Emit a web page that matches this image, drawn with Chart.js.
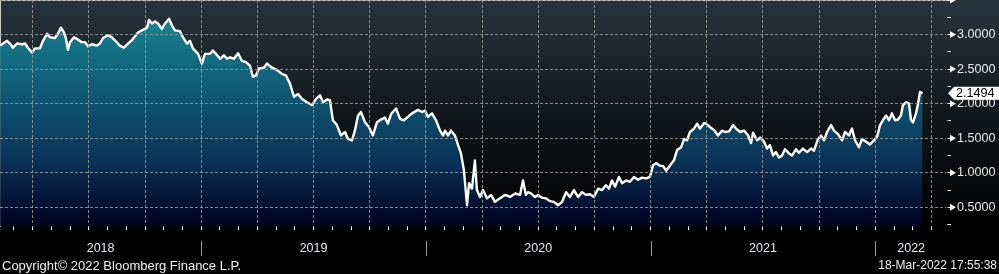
<!DOCTYPE html>
<html lang="en">
<head>
    <meta charset="UTF-8">
    <title>Yield chart</title>
    <script src="https://cdn.jsdelivr.net/npm/chart.js"></script>
    <style>
        body {
            margin: 0;
            background-color: #000;
            overflow: hidden;
        }
        canvas {
            display: block;
        }
    </style>
</head>
<body>
    <canvas id="yieldChart" width="999" height="274"></canvas>

    <script>
        // Dates as decimal years
        const dates = [
            2018.105, 2018.136, 2018.149, 2018.162, 2018.180, 2018.202, 2018.216, 2018.229, 2018.247, 2018.260,
            2018.282, 2018.296, 2018.314, 2018.327, 2018.349, 2018.362, 2018.376, 2018.389, 2018.398, 2018.407,
            2018.416, 2018.434, 2018.451, 2018.469, 2018.483, 2018.496, 2018.514, 2018.536, 2018.549, 2018.563,
            2018.585, 2018.603, 2018.621, 2018.638, 2018.656, 2018.674, 2018.692, 2018.719, 2018.741, 2018.759,
            2018.768, 2018.781, 2018.794, 2018.808, 2018.825, 2018.839, 2018.857, 2018.870, 2018.883, 2018.905,
            2018.919, 2018.937, 2018.950, 2018.963, 2018.986, 2019.003, 2019.017, 2019.039, 2019.052, 2019.066,
            2019.084, 2019.101, 2019.115, 2019.128, 2019.146, 2019.164, 2019.181, 2019.199, 2019.217, 2019.230,
            2019.244, 2019.257, 2019.279, 2019.293, 2019.315, 2019.337, 2019.359, 2019.377, 2019.395, 2019.413,
            2019.431, 2019.448, 2019.471, 2019.493, 2019.511, 2019.529, 2019.542, 2019.560, 2019.573, 2019.586,
            2019.604, 2019.622, 2019.640, 2019.653, 2019.671, 2019.684, 2019.698, 2019.711, 2019.729, 2019.747,
            2019.764, 2019.782, 2019.800, 2019.818, 2019.831, 2019.845, 2019.867, 2019.885, 2019.902, 2019.920,
            2019.938, 2019.965, 2019.983, 2019.996, 2020.009, 2020.027, 2020.045, 2020.063, 2020.076, 2020.085,
            2020.098, 2020.112, 2020.129, 2020.143, 2020.156, 2020.169, 2020.183, 2020.192, 2020.205, 2020.218,
            2020.227, 2020.241, 2020.254, 2020.272, 2020.290, 2020.307, 2020.330, 2020.352, 2020.374, 2020.397,
            2020.419, 2020.432, 2020.445, 2020.454, 2020.468, 2020.486, 2020.499, 2020.517, 2020.534, 2020.552,
            2020.570, 2020.588, 2020.606, 2020.624, 2020.641, 2020.659, 2020.677, 2020.695, 2020.712, 2020.730,
            2020.748, 2020.766, 2020.784, 2020.801, 2020.815, 2020.828, 2020.842, 2020.859, 2020.873, 2020.891,
            2020.908, 2020.926, 2020.944, 2020.962, 2020.980, 2020.997, 2021.011, 2021.024, 2021.042, 2021.055,
            2021.069, 2021.087, 2021.104, 2021.118, 2021.136, 2021.149, 2021.162, 2021.175, 2021.193, 2021.207,
            2021.220, 2021.238, 2021.247, 2021.265, 2021.282, 2021.300, 2021.318, 2021.331, 2021.349, 2021.367,
            2021.380, 2021.398, 2021.416, 2021.434, 2021.447, 2021.456, 2021.474, 2021.487, 2021.505, 2021.518,
            2021.531, 2021.545, 2021.558, 2021.571, 2021.585, 2021.598, 2021.616, 2021.629, 2021.647, 2021.660,
            2021.678, 2021.696, 2021.714, 2021.727, 2021.745, 2021.758, 2021.772, 2021.785, 2021.803, 2021.816,
            2021.834, 2021.852, 2021.865, 2021.883, 2021.896, 2021.910, 2021.927, 2021.941, 2021.959, 2021.976,
            2021.994, 2022.008, 2022.021, 2022.034, 2022.048, 2022.061, 2022.074, 2022.088, 2022.101, 2022.114,
            2022.123, 2022.137, 2022.150, 2022.159, 2022.168, 2022.181, 2022.190, 2022.199, 2022.210
        ];

        const yields = [
            2.84, 2.91, 2.87, 2.81, 2.87, 2.86, 2.87, 2.81, 2.74, 2.80,
            2.80, 2.91, 3.01, 2.96, 2.95, 3.01, 3.10, 3.03, 2.94, 2.78,
            2.89, 2.96, 2.93, 2.89, 2.89, 2.83, 2.86, 2.84, 2.87, 2.95,
            2.99, 2.96, 2.90, 2.84, 2.81, 2.87, 2.92, 3.03, 3.07, 3.10,
            3.21, 3.16, 3.19, 3.16, 3.08, 3.16, 3.23, 3.13, 3.06, 3.05,
            2.96, 2.87, 2.91, 2.80, 2.72, 2.58, 2.72, 2.72, 2.77, 2.72,
            2.65, 2.70, 2.65, 2.67, 2.65, 2.73, 2.62, 2.60, 2.55, 2.39,
            2.41, 2.51, 2.52, 2.58, 2.52, 2.49, 2.43, 2.41, 2.29, 2.10,
            2.14, 2.07, 2.02, 1.98, 2.07, 2.12, 2.02, 2.06, 2.05, 1.76,
            1.69, 1.54, 1.59, 1.49, 1.47, 1.61, 1.83, 1.88, 1.73, 1.66,
            1.54, 1.73, 1.77, 1.80, 1.71, 1.85, 1.93, 1.78, 1.76, 1.81,
            1.86, 1.91, 1.88, 1.90, 1.81, 1.86, 1.76, 1.61, 1.54, 1.61,
            1.54, 1.61, 1.54, 1.40, 1.28, 1.04, 0.53, 0.85, 0.77, 1.18,
            0.75, 0.65, 0.75, 0.63, 0.68, 0.58, 0.63, 0.68, 0.65, 0.70,
            0.68, 0.89, 0.68, 0.72, 0.70, 0.65, 0.68, 0.64, 0.63, 0.59,
            0.58, 0.53, 0.58, 0.72, 0.65, 0.75, 0.65, 0.72, 0.68, 0.69,
            0.65, 0.77, 0.75, 0.82, 0.77, 0.89, 0.80, 0.94, 0.85, 0.89,
            0.87, 0.94, 0.90, 0.93, 0.92, 0.94, 1.11, 1.14, 1.10, 1.10,
            1.03, 1.11, 1.18, 1.33, 1.37, 1.49, 1.47, 1.59, 1.64, 1.71,
            1.64, 1.72, 1.71, 1.66, 1.62, 1.54, 1.61, 1.59, 1.60, 1.69,
            1.64, 1.59, 1.61, 1.54, 1.43, 1.58, 1.47, 1.51, 1.45, 1.35,
            1.40, 1.25, 1.30, 1.22, 1.25, 1.34, 1.28, 1.25, 1.34, 1.29,
            1.35, 1.30, 1.35, 1.32, 1.49, 1.54, 1.47, 1.59, 1.69, 1.61,
            1.56, 1.47, 1.59, 1.54, 1.64, 1.47, 1.37, 1.49, 1.45, 1.41,
            1.47, 1.52, 1.69, 1.76, 1.83, 1.76, 1.86, 1.76, 1.77, 1.83,
            1.98, 2.02, 2.00, 1.76, 1.73, 1.86, 2.00, 2.17, 2.1494
        ];

        // Axis ticks and labels
        const years = [2018, 2019, 2020, 2021, 2022];
        const yTicks = [0.25, 0.5, 0.75, 1.0, 1.25, 1.5, 1.75, 2.0, 2.25, 2.5, 2.75, 3.0, 3.25, 3.5];
        const xMin = 2018.1046, xMax = 2022.319;
        const yMin = 0.23, yMax = 3.5;
        const copyrightText = 'Copyright\u00A9 2022 Bloomberg Finance L.P.';
        const stampText = '18-Mar-2022 17:55:38';

        const FONT = '"Liberation Sans", Arial, sans-serif';
        const GRID = 'rgba(150,150,150,0.9)';

        // monthly ticks on the time axis, quarters get a grid line
        const monthTicks = [];
        years.forEach(y => {
            for (let m = 0; m < 12; m++) {
                const v = y + m / 12;
                if (v >= xMin && v <= xMax) monthTicks.push({ value: v });
            }
        });
        const isQuarter = v => Math.round((v - Math.floor(v + 1e-6)) * 12) % 3 === 0;
        const isHalf = v => Math.abs(v * 2 - Math.round(v * 2)) < 1e-6;

        const points = dates.map((d, i) => ({ x: d, y: yields[i] }));

        // background, year band, axis arrows, last value tag, footer texts
        const bbgDecor = {
            id: 'bbgDecor',
            beforeDraw(chart) {
                const { ctx, width, height, chartArea } = chart;
                ctx.save();
                ctx.fillStyle = '#000';
                ctx.fillRect(0, 0, width, height);
                const g = ctx.createLinearGradient(0, 0, 0, chartArea.bottom);
                g.addColorStop(0, '#27343e');
                g.addColorStop(0.55, '#101418');
                g.addColorStop(1, '#000000');
                ctx.fillStyle = g;
                ctx.fillRect(0, 0, width, chartArea.bottom);
                ctx.restore();
            },
            afterDraw(chart) {
                const { ctx, chartArea } = chart;
                const xs = chart.scales.x, ys = chart.scales.y;
                ctx.save();

                // year separators + centred year labels
                ctx.strokeStyle = '#9a9a9a';
                ctx.lineWidth = 1;
                ctx.fillStyle = '#e4e8ee';
                ctx.font = '12.5px ' + FONT;
                ctx.textAlign = 'center';
                ctx.textBaseline = 'middle';
                years.forEach(y => {
                    const a = xs.getPixelForValue(y), b = xs.getPixelForValue(y + 1);
                    if (a > chartArea.left + 1) {
                        ctx.beginPath();
                        ctx.moveTo(Math.round(a) + 0.5, 241);
                        ctx.lineTo(Math.round(a) + 0.5, 256);
                        ctx.stroke();
                    }
                    const l = Math.max(a, chartArea.left), r = Math.min(b, chartArea.right);
                    if (r > l) ctx.fillText(String(y), (l + r) / 2, 248.5);
                });

                // arrow heads on the value axis
                ctx.fillStyle = '#fff';
                yTicks.filter(isHalf).forEach(v => {
                    const py = ys.getPixelForValue(v);
                    ctx.beginPath();
                    ctx.moveTo(chartArea.right + 3, py - 3.5);
                    ctx.lineTo(chartArea.right + 9, py);
                    ctx.lineTo(chartArea.right + 3, py + 3.5);
                    ctx.closePath();
                    ctx.fill();
                });

                // last value tag
                const last = yields[yields.length - 1];
                const ty = ys.getPixelForValue(last);
                const x0 = chartArea.right + 1;
                ctx.beginPath();
                ctx.moveTo(x0, ty);
                ctx.lineTo(x0 + 6, ty - 6.5);
                ctx.lineTo(999, ty - 6.5);
                ctx.lineTo(999, ty + 6.5);
                ctx.lineTo(x0 + 6, ty + 6.5);
                ctx.closePath();
                ctx.fillStyle = '#fff';
                ctx.fill();
                ctx.fillStyle = '#000';
                ctx.font = '12.6px ' + FONT;
                ctx.textAlign = 'left';
                ctx.fillText(last.toFixed(4), x0 + 8, ty + 0.5);

                // footer
                ctx.fillStyle = '#f0f0f0';
                ctx.font = '13px ' + FONT;
                ctx.textAlign = 'left';
                ctx.fillText(copyrightText, 2, 266);
                ctx.font = '12px ' + FONT;
                ctx.textAlign = 'right';
                ctx.fillText(stampText, 997, 266);
                ctx.restore();
            }
        };

        const ctx = document.getElementById('yieldChart').getContext('2d');
        new Chart(ctx, {
            type: 'line',
            data: {
                datasets: [{
                    data: points,
                    borderColor: '#ffffff',
                    borderWidth: 2.4,
                    borderJoinStyle: 'round',
                    pointRadius: 0,
                    tension: 0,
                    fill: 'start',
                    backgroundColor: function(context) {
                        const area = context.chart.chartArea;
                        if (!area) return '#0d4f6e';
                        const g = context.chart.ctx.createLinearGradient(0, area.top, 0, area.bottom);
                        g.addColorStop(0, '#1a8c9b');
                        g.addColorStop(0.35, '#106079');
                        g.addColorStop(0.7, '#0a3459');
                        g.addColorStop(1, '#00001f');
                        return g;
                    }
                }]
            },
            options: {
                responsive: false,
                animation: false,
                devicePixelRatio: 1,
                layout: { padding: 0 },
                plugins: {
                    legend: { display: false },
                    tooltip: { enabled: false }
                },
                scales: {
                    x: {
                        type: 'linear',
                        position: 'bottom',
                        min: xMin,
                        max: xMax,
                        afterBuildTicks: s => { s.ticks = monthTicks.map(t => ({ value: t.value })); },
                        afterFit: s => {
                            s.height = 48;
                            s.paddingLeft = 0; s.paddingRight = 0;
                        },
                        ticks: { display: false },
                        grid: {
                            z: 1,
                            color: c => (c.tick && isQuarter(c.tick.value)) ? GRID : 'rgba(0,0,0,0)',
                            tickColor: '#ffffff',
                            tickLength: 4,
                            lineWidth: 1
                        },
                        border: { display: true, color: '#ffffff', width: 1.5, dash: [3, 2] }
                    },
                    y: {
                        type: 'linear',
                        position: 'right',
                        min: yMin,
                        max: yMax,
                        afterBuildTicks: s => { s.ticks = yTicks.map(v => ({ value: v })); },
                        afterFit: s => {
                            s.width = 52;
                            s.paddingTop = 0; s.paddingBottom = 0;
                        },
                        ticks: {
                            autoSkip: false,
                            padding: 6,
                            color: '#eaeaea',
                            font: { family: FONT, size: 12.6 },
                            callback: v => (isHalf(v) && v < 3.5) ? v.toFixed(4) : ''
                        },
                        grid: {
                            z: 1,
                            color: c => (c.tick && isHalf(c.tick.value)) ? GRID : 'rgba(0,0,0,0)',
                            tickColor: '#ffffff',
                            tickLength: 4,
                            lineWidth: 1
                        },
                        border: { display: true, color: '#ffffff', width: 1.5, dash: [3, 2] }
                    }
                }
            },
            plugins: [bbgDecor]
        });
    </script>
</body>
</html>
